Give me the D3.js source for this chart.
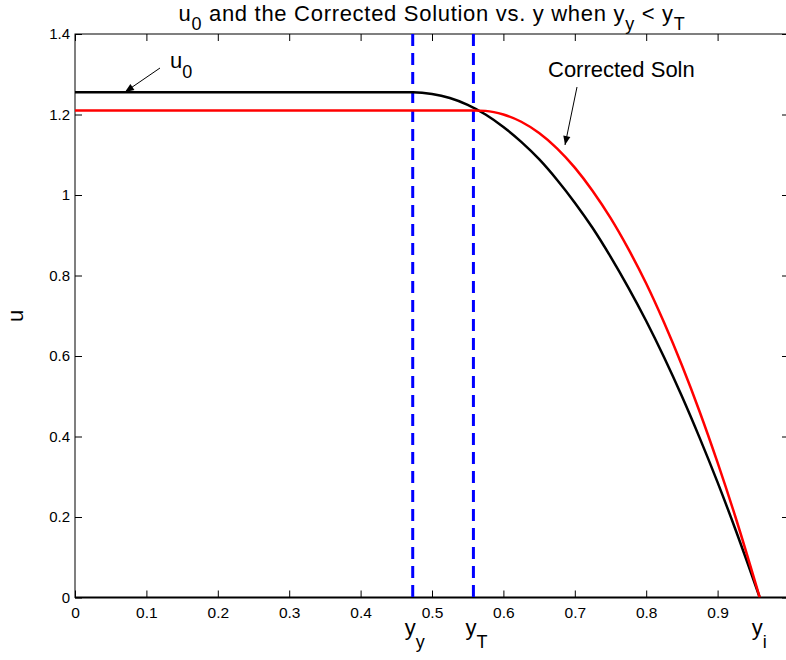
<!DOCTYPE html>
<html>
<head>
<meta charset="utf-8">
<script src="https://cdn.jsdelivr.net/npm/d3@7"></script>
<style>
  body { margin: 0; background: #fff; }
  text { font-family: "Liberation Sans", Arial, Helvetica, sans-serif; fill: #000; }
</style>
</head>
<body>
<svg id="chart" width="786" height="660"></svg>
<script>
// u0 (leading-order solution) sampled along y
const u0Y = [0, 0.473, 0.50, 0.525, 0.55, 0.575, 0.60, 0.625, 0.65, 0.675, 0.70, 0.725, 0.75,
             0.775, 0.80, 0.825, 0.85, 0.875, 0.90, 0.925, 0.959];
const u0U = [1.255, 1.255, 1.251, 1.241, 1.224, 1.200, 1.169, 1.132, 1.089, 1.038, 0.981, 0.918, 0.847,
             0.770, 0.687, 0.597, 0.500, 0.396, 0.286, 0.169, 0];

// corrected solution sampled along y
const corrY = [0, 0.558, 0.575, 0.60, 0.625, 0.65, 0.675, 0.70, 0.725, 0.75, 0.775,
               0.80, 0.825, 0.85, 0.875, 0.90, 0.925, 0.959];
const corrU = [1.210, 1.210, 1.209, 1.200, 1.182, 1.154, 1.116, 1.068, 1.010, 0.943, 0.866,
               0.780, 0.683, 0.577, 0.461, 0.335, 0.200, 0];

// special positions on the y axis
const yYield = 0.473;   // y_y
const yT = 0.558;       // y_T
const yI = 0.959;       // y_i

const xTickValues = [0, 0.1, 0.2, 0.3, 0.4, 0.5, 0.6, 0.7, 0.8, 0.9, 1.0];
const yTickValues = [0, 0.2, 0.4, 0.6, 0.8, 1.0, 1.2, 1.4];

const svg = d3.select("#chart");
const mLeft = 75, mTop = 34, mBottom = 597.5, mRight = 789;

const x = d3.scaleLinear().domain([0, 1]).range([mLeft, mRight]);
const y = d3.scaleLinear().domain([0, 1.4]).range([mBottom, mTop]);

const defs = svg.append("defs");
defs.append("clipPath").attr("id", "plotArea")
  .append("rect").attr("x", mLeft).attr("y", mTop)
  .attr("width", mRight - mLeft).attr("height", mBottom - mTop);

const tickLen = 7;
const fmt = d => String(+d.toFixed(1));

// bottom axis (ticks point inward); the label at 1 falls past the window edge
const xAxis = svg.append("g").attr("transform", `translate(0,${mBottom})`)
  .call(d3.axisBottom(x).tickValues(xTickValues).tickSizeInner(-tickLen).tickSizeOuter(0)
    .tickPadding(9).tickFormat(d => d >= 1 ? "" : fmt(d)));
xAxis.select(".domain").remove();
xAxis.selectAll("line").attr("stroke", "#000");
xAxis.selectAll("text").style("font-size", "15.5px").attr("font-family", null);

// top axis ticks
const xTop = svg.append("g").attr("transform", `translate(0,${mTop})`)
  .call(d3.axisTop(x).tickValues(xTickValues).tickSizeInner(-tickLen).tickSizeOuter(0).tickFormat(""));
xTop.select(".domain").remove();
xTop.selectAll("line").attr("stroke", "#000");

// left axis
const yAxis = svg.append("g").attr("transform", `translate(${mLeft},0)`)
  .call(d3.axisLeft(y).tickValues(yTickValues).tickSizeInner(-tickLen).tickSizeOuter(0)
    .tickPadding(5).tickFormat(fmt));
yAxis.select(".domain").remove();
yAxis.selectAll("line").attr("stroke", "#000");
yAxis.selectAll("text").style("font-size", "15px").attr("font-family", null).attr("x", -5);

// right axis ticks
const yRight = svg.append("g").attr("transform", `translate(${mRight},0)`)
  .call(d3.axisRight(y).tickValues(yTickValues).tickSizeInner(-tickLen).tickSizeOuter(0).tickFormat(""));
yRight.select(".domain").remove();
yRight.selectAll("line").attr("stroke", "#000");

// axes box
svg.append("rect").attr("x", mLeft).attr("y", mTop)
  .attr("width", mRight - mLeft).attr("height", mBottom - mTop)
  .attr("fill", "none").attr("stroke", "#000").attr("stroke-width", 1);
svg.append("line").attr("x1", mLeft).attr("x2", mRight).attr("y1", mBottom).attr("y2", mBottom)
  .attr("stroke", "#000").attr("stroke-width", 2);

const plot = svg.append("g").attr("clip-path", "url(#plotArea)");

// dashed markers at y_y and y_T
[yYield, yT].forEach(v => {
  plot.append("line")
    .attr("x1", x(v)).attr("x2", x(v)).attr("y1", y(1.4)).attr("y2", y(0))
    .attr("stroke", "#0000ff").attr("stroke-width", 3)
    .attr("stroke-dasharray", "12,7");
});

const line = d3.line().curve(d3.curveMonotoneX);

plot.append("path")
  .attr("d", line(u0Y.map((v, i) => [x(v), y(u0U[i])])))
  .attr("fill", "none").attr("stroke", "#000").attr("stroke-width", 2.5);

plot.append("path")
  .attr("d", line(corrY.map((v, i) => [x(v), y(corrU[i])])))
  .attr("fill", "none").attr("stroke", "#ff0000").attr("stroke-width", 2.5);

// arrowhead marker
defs.append("marker")
  .attr("id", "arrow").attr("viewBox", "0 0 10 10").attr("refX", 10).attr("refY", 5)
  .attr("markerWidth", 11).attr("markerHeight", 9).attr("markerUnits", "userSpaceOnUse")
  .attr("orient", "auto")
  .append("path").attr("d", "M0,1 L10,5 L0,9 Z").attr("fill", "#000");

// annotation: u0
svg.append("line").attr("x1", 160).attr("y1", 68).attr("x2", 125).attr("y2", 92)
  .attr("stroke", "#000").attr("stroke-width", 1).attr("marker-end", "url(#arrow)");
const u0Label = svg.append("text").attr("x", 170).attr("y", 68).style("font-size", "22px");
u0Label.append("tspan").text("u");
u0Label.append("tspan").attr("dy", 10).style("font-size", "18px").text("0");

// annotation: Corrected Soln
svg.append("line").attr("x1", 577).attr("y1", 87).attr("x2", 565).attr("y2", 145)
  .attr("stroke", "#000").attr("stroke-width", 1).attr("marker-end", "url(#arrow)");
svg.append("text").attr("x", 548).attr("y", 77).style("font-size", "22px").text("Corrected Soln");

// title
const title = svg.append("text").attr("x", (mLeft + mRight) / 2).attr("y", 21)
  .attr("text-anchor", "middle").style("font-size", "22px").style("letter-spacing", "0.7px");
title.append("tspan").text("u");
title.append("tspan").attr("dy", 9).style("font-size", "18px").text("0");
title.append("tspan").attr("dy", -9).text(" and the Corrected Solution vs. y when y");
title.append("tspan").attr("dy", 9).style("font-size", "18px").text("y");
title.append("tspan").attr("dy", -9).text(" < y");
title.append("tspan").attr("dy", 9).style("font-size", "18px").text("T");

// y-axis label
svg.append("text").attr("transform", `translate(23,${(mTop + mBottom) / 2}) rotate(-90)`)
  .attr("text-anchor", "middle").style("font-size", "22px").text("u");

// labels for the special y positions beneath the axis
function subLabel(xv, sub) {
  const t = svg.append("text").attr("x", x(xv) - 8).attr("y", 635).style("font-size", "22px");
  t.append("tspan").text("y");
  t.append("tspan").attr("dy", 13).style("font-size", "18px").text(sub);
}
subLabel(yYield, "y");
subLabel(yT, "T");
subLabel(yI, "i");
</script>
</body>
</html>
